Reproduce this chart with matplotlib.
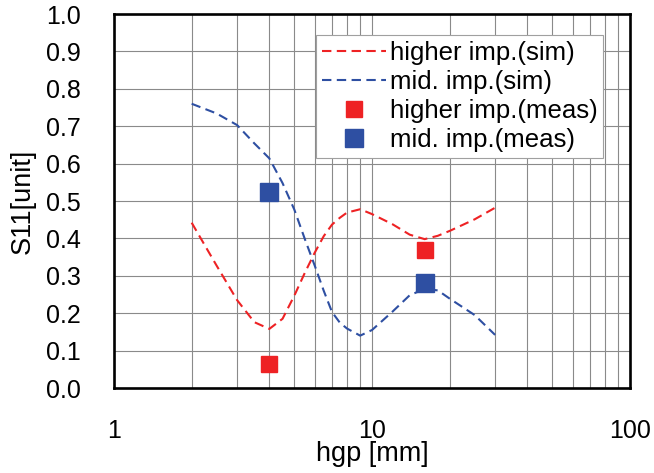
import matplotlib
matplotlib.use("Agg")
import matplotlib.pyplot as plt
from matplotlib.ticker import LogLocator, FixedLocator, NullFormatter

# simulated S11 vs ground-plane height
hgp_sim = [2, 2.5, 3, 3.5, 4, 4.5, 5, 5.5, 6, 6.5, 7, 7.5, 8, 9, 10,
           12, 14, 16, 18, 20, 25, 30]
s11_high_sim = [0.442, 0.327, 0.235, 0.176, 0.158, 0.185, 0.247, 0.309, 0.362,
                0.406, 0.437, 0.455, 0.469, 0.478, 0.465, 0.438, 0.41, 0.398,
                0.407, 0.42, 0.451, 0.482]
s11_mid_sim = [0.76, 0.734, 0.703, 0.654, 0.614, 0.548, 0.477, 0.397, 0.327,
               0.26, 0.203, 0.175, 0.159, 0.14, 0.155, 0.204, 0.248, 0.265,
               0.261, 0.239, 0.195, 0.142]

# measured points
hgp_meas = [4, 16]
s11_high_meas = [0.065, 0.37]
s11_mid_meas = [0.525, 0.28]

RED = "#EE2224"
BLUE = "#2E4FA2"
TICK_FONT = ["Liberation Sans", "DejaVu Sans"]
LEGEND_FONT = ["Liberation Sans", "DejaVu Sans"]

fig = plt.figure(figsize=(6.54, 4.73), dpi=100)
ax = fig.add_axes([0.1743, 0.1797, 0.789, 0.7907])

ax.plot(hgp_sim, s11_high_sim, color=RED, lw=1.5, dashes=(4.5, 2.6),
        label="higher imp.(sim)")
ax.plot(hgp_sim, s11_mid_sim, color=BLUE, lw=1.5, dashes=(4.5, 2.6),
        label="mid. imp.(sim)")
ax.plot(hgp_meas, s11_high_meas, ls="none", marker="s", ms=11.5, color=RED,
        label="higher imp.(meas)", zorder=5)
ax.plot(hgp_meas, s11_mid_meas, ls="none", marker="s", ms=12.5, color=BLUE,
        label="mid. imp.(meas)", zorder=5)

ax.set_xscale("log")
ax.set_xlim(1, 100)
ax.set_ylim(0, 1.0)
ax.xaxis.set_major_locator(FixedLocator([1, 10, 100]))
ax.xaxis.set_minor_locator(LogLocator(base=10, subs=range(2, 10)))
ax.xaxis.set_minor_formatter(NullFormatter())
ax.set_xticklabels(["1", "10", "100"])
ax.set_yticks([i / 10 for i in range(11)])
ax.set_yticklabels([f"{i / 10:.1f}" for i in range(11)])

ax.grid(True, which="both", axis="x", color="#8a8a8a", lw=0.8)
ax.grid(True, which="major", axis="y", color="#8a8a8a", lw=0.8)
ax.set_axisbelow(True)

ax.tick_params(which="both", length=0)
ax.tick_params(axis="y", pad=24)
ax.tick_params(axis="x", pad=22)
for lbl in ax.get_xticklabels() + ax.get_yticklabels():
    lbl.set_family(TICK_FONT)
    lbl.set_fontsize(18)

for sp in ax.spines.values():
    sp.set_linewidth(1.9)
    sp.set_color("black")

ax.set_xlabel("hgp [mm]", family=TICK_FONT, fontsize=19.5, labelpad=-1)
ax.set_ylabel("S11[unit]", family=TICK_FONT, fontsize=19.5, labelpad=7)

leg = ax.legend(loc="upper right", bbox_to_anchor=(0.948, 0.944),
                prop={"family": LEGEND_FONT, "size": 18.5}, fancybox=False,
                framealpha=1, edgecolor="#a0a0a0", handlelength=2.5,
                handletextpad=0.15, labelspacing=0.2, borderpad=0.22,
                borderaxespad=0)
leg.get_frame().set_linewidth(0.8)

fig.savefig("out.png", dpi=100)
